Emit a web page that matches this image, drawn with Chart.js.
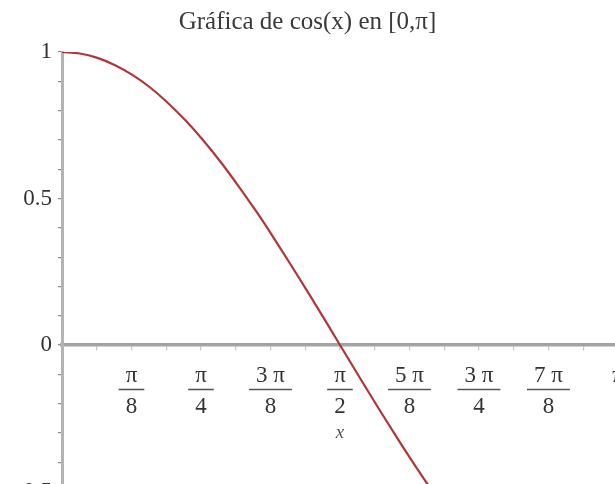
<!DOCTYPE html>
<html>
<head>
<meta charset="utf-8">
<script src="https://cdn.jsdelivr.net/npm/chart.js@4.4.1/dist/chart.umd.min.js"></script>
<style>
  html, body { margin: 0; padding: 0; overflow: hidden; background: #fff; }
  #wrap { position: absolute; left: 0; top: 0; width: 615px; height: 520px; }
</style>
</head>
<body>
<div id="wrap"><canvas id="c" width="615" height="520"></canvas></div>
<script>
// ---- data ----
const titleText = 'Gráfica de cos(x) en [0,π]';
const xAxisLabel = 'x';
const xValues = [0, 0.1, 0.2, 0.3, 0.4, 0.5, 0.6, 0.7, 0.8, 0.9, 1.0, 1.1, 1.2, 1.3, 1.4, 1.5, 1.6, 1.7, 1.8, 1.9, 2.0, 2.1, 2.2, 2.3];
const yValues = [1.000, 0.995, 0.980, 0.955, 0.921, 0.878, 0.825, 0.765, 0.697, 0.622, 0.540, 0.454, 0.362, 0.267, 0.170, 0.071, -0.029, -0.129, -0.227, -0.323, -0.416, -0.505, -0.589, -0.666];
// x tick labels, at multiples of pi/8
const xTickEighths = [1, 2, 3, 4, 5, 6, 7, 8];
const xTickNumerators = ['π', 'π', '3 π', 'π', '5 π', '3 π', '7 π', 'π'];
const xTickDenominators = ['8', '4', '8', '2', '8', '4', '8', ''];
// minor x tick marks at multiples of pi/16
const xMinorSixteenths = [1, 2, 3, 4, 5, 6, 7, 8, 9, 10, 11, 12, 13, 14, 15];
// y tick labels
const yLabelValues = [1, 0.5, 0, -0.5];
const yLabelTexts = ['1', '0.5', '0', '-0.5'];
const xMin = 0, xMax = 3.125;
const yMin = -0.5, yMax = 1;

const points = xValues.map((x, i) => ({ x: x, y: yValues[i] }));

const SERIF = '"Liberation Serif", "Times New Roman", serif';

const fractionLabels = {
  id: 'fractionLabels',
  afterDraw(chart) {
    const ctx = chart.ctx;
    const xs = chart.scales.x, ys = chart.scales.y;
    const y0 = ys.getPixelForValue(0);
    ctx.save();
    ctx.fillStyle = '#333';
    ctx.textAlign = 'center';
    ctx.textBaseline = 'alphabetic';
    ctx.font = '23px ' + SERIF;
    xTickEighths.forEach((k, i) => {
      const px = xs.getPixelForValue(k * Math.PI / 8);
      const num = xTickNumerators[i], den = xTickDenominators[i];
      ctx.fillText(num, px, y0 + 37);
      if (den) {
        const w = Math.max(ctx.measureText(num).width, ctx.measureText(den).width) + 14;
        ctx.strokeStyle = '#555';
        ctx.lineWidth = 1.6;
        ctx.beginPath();
        ctx.moveTo(px - w / 2, y0 + 44.5);
        ctx.lineTo(px + w / 2, y0 + 44.5);
        ctx.stroke();
        ctx.fillText(den, px, y0 + 68);
      }
    });
    // axis label "x" under pi/2
    ctx.font = 'italic 19px ' + SERIF;
    ctx.fillStyle = '#555';
    ctx.fillText(xAxisLabel, xs.getPixelForValue(Math.PI / 2), y0 + 93);
    ctx.restore();
  }
};

new Chart(document.getElementById('c'), {
  type: 'line',
  data: {
    datasets: [{
      data: points,
      borderColor: '#b0363a',
      borderWidth: 2.2,
      pointRadius: 0,
      fill: false,
      cubicInterpolationMode: 'monotone'
    }]
  },
  options: {
    responsive: false,
    animation: false,
    events: [],
    layout: { padding: { left: 0, right: 0, top: 0, bottom: 28.5 } },
    plugins: {
      legend: { display: false },
      tooltip: { enabled: false },
      title: {
        display: true,
        text: titleText,
        color: '#3a3a3a',
        font: { family: SERIF, size: 25, weight: 'normal', lineHeight: 1.2 },
        padding: { top: 7, bottom: 15 }
      }
    },
    scales: {
      x: {
        type: 'linear',
        position: { y: 0 },
        min: xMin,
        max: xMax,
        afterBuildTicks: (scale) => {
          scale.ticks = xMinorSixteenths.map(k => ({ value: k * Math.PI / 16 }));
        },
        ticks: { display: false },
        grid: { drawOnChartArea: false, drawTicks: true, tickLength: 4, color: '#c4c4c4', lineWidth: 1.2 },
        border: { display: true, color: '#a3a3a3', width: 3.5 }
      },
      y: {
        type: 'linear',
        position: 'left',
        min: yMin,
        max: yMax,
        afterFit: (scale) => { scale.width = 62; },
        ticks: {
          stepSize: 0.1,
          autoSkip: false,
          padding: 6,
          color: '#333',
          font: { family: SERIF, size: 23 },
          callback: (v) => {
            const i = yLabelValues.findIndex(t => Math.abs(t - v) < 1e-9);
            return i >= 0 ? yLabelTexts[i] : '';
          }
        },
        grid: { drawOnChartArea: false, drawTicks: true, tickLength: 4, color: '#8a8a8a', lineWidth: 1.2 },
        border: { display: true, color: '#b4b4b4', width: 3 }
      }
    }
  },
  plugins: [fractionLabels]
});
</script>
</body>
</html>
